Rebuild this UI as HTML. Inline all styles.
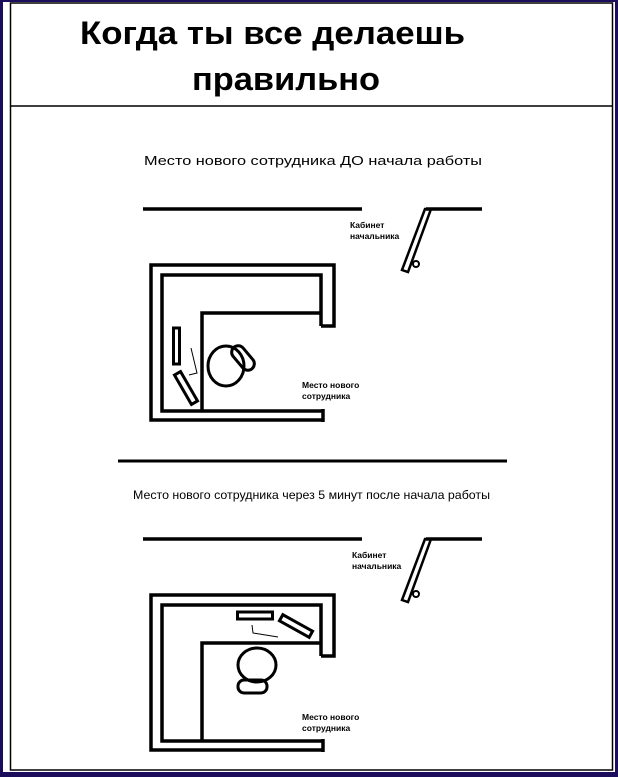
<!DOCTYPE html>
<html><head><meta charset="utf-8"><style>
html,body{margin:0;padding:0;background:#1a0a5a;}
svg{display:block}
text{font-family:"Liberation Sans",sans-serif;}
</style></head><body>
<svg width="618" height="777" viewBox="0 0 618 777" xmlns="http://www.w3.org/2000/svg">
<rect x="0" y="0" width="618" height="777" fill="#1c0c5c"/>
<rect x="3" y="2" width="612" height="770" fill="#fff"/>
<rect x="10.5" y="3" width="602" height="767" fill="none" stroke="#000" stroke-width="1.5"/>
<line x1="10" y1="106" x2="613" y2="106" stroke="#000" stroke-width="1.5"/>
<text x="80" y="44" font-size="32" font-weight="bold" textLength="385" lengthAdjust="spacingAndGlyphs">Когда ты все делаешь</text>
<text x="192" y="90" font-size="32" font-weight="bold" textLength="188" lengthAdjust="spacingAndGlyphs">правильно</text>
<text x="144" y="165" font-size="13" textLength="338" lengthAdjust="spacingAndGlyphs">Место нового сотрудника ДО начала работы</text>
<line x1="118" y1="461" x2="507" y2="461" stroke="#000" stroke-width="3"/>
<text x="133" y="499" font-size="12" textLength="357" lengthAdjust="spacingAndGlyphs">Место нового сотрудника через 5 минут после начала работы</text>

<g id="room" fill="none" stroke="#000" stroke-width="3.5">
<line x1="143" y1="209" x2="362" y2="209"/>
<line x1="426" y1="209" x2="482" y2="209"/>
<polygon points="425,209 431,209 408,272 402,270" stroke-width="2.5"/>
<circle cx="416" cy="264" r="3" stroke-width="2"/>
<polyline points="323,420 151,420 151,265 334,265 334,326 321,326"/>
<polyline points="323,411 162,411 162,275 321,275 321,326"/>
<polyline points="202,411 202,313 321,313"/>
<line x1="323" y1="409" x2="323" y2="422"/>
</g>
<g font-size="8.5" font-weight="bold">
<text x="350" y="228">Кабинет</text>
<text x="350" y="239">начальника</text>
<text x="302" y="388">Место нового</text>
<text x="302" y="399">сотрудника</text>
</g>
<use href="#room" transform="translate(0,330)"/>
<g font-size="8.5" font-weight="bold">
<text x="352" y="558">Кабинет</text>
<text x="352" y="569">начальника</text>
<text x="302" y="720">Место нового</text>
<text x="302" y="731">сотрудника</text>
</g>

<!-- top items -->
<g fill="none" stroke="#000">
<rect x="173.5" y="328" width="6" height="36" stroke-width="3"/>
<rect x="-3.5" y="-17" width="7" height="34" stroke-width="3" transform="translate(186,388) rotate(-30)"/>
<polyline points="191,348 197,373 189,375" stroke-width="1"/>
<ellipse cx="226" cy="366" rx="18" ry="20" stroke-width="3"/>
<rect x="-14" y="-6.5" width="28" height="13" rx="6.5" stroke-width="3" transform="translate(243,358) rotate(50)"/>
</g>
<!-- bottom items -->
<g fill="none" stroke="#000">
<rect x="237.5" y="612" width="35" height="7" stroke-width="3"/>
<rect x="-17" y="-3.5" width="34" height="7" stroke-width="3" transform="translate(296,626) rotate(29)"/>
<polyline points="252,625 253,633 278,637" stroke-width="1"/>
<ellipse cx="257" cy="665" rx="19" ry="17" stroke-width="3"/>
<rect x="238" y="680" width="29" height="13" rx="6" stroke-width="3"/>
</g>
</svg>
</body></html>
